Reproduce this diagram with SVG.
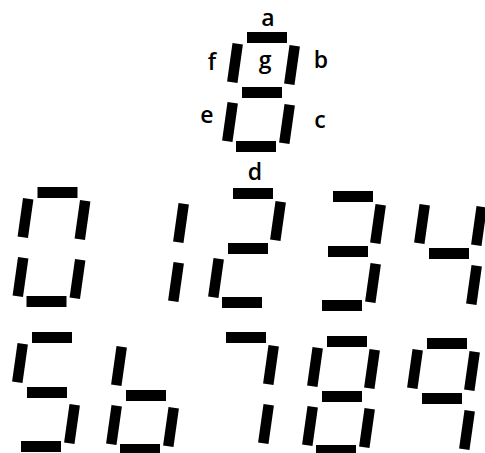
<svg xmlns="http://www.w3.org/2000/svg" xmlns:xlink="http://www.w3.org/1999/xlink" width="485" height="453" viewBox="0 0 485 453">
<style>
.seg{fill:#000}
.lbl{font-family:"Open Sans","Noto Sans",sans-serif;font-weight:600;font-size:23px;fill:#000;text-anchor:middle}
</style>
<defs>
<rect id="h" class="seg" width="40" height="11"/>
<rect id="v" class="seg" x="-5.25" y="-19.5" width="10.5" height="39" transform="rotate(8)"/>
</defs>
<rect width="485" height="453" fill="#fff"/>
<g id="key">
<use href="#h" x="247" y="32"/>
<use href="#v" x="292" y="65"/>
<use href="#v" x="287" y="124"/>
<use href="#h" x="236" y="141"/>
<use href="#v" x="230" y="122"/>
<use href="#v" x="235" y="63"/>
<use href="#h" x="242" y="87"/>
<text class="lbl" x="268" y="26">a</text>
<text class="lbl" x="321" y="68">b</text>
<text class="lbl" x="320" y="128">c</text>
<text class="lbl" x="255" y="180">d</text>
<text class="lbl" x="207" y="123">e</text>
<text class="lbl" x="212" y="70">f</text>
<text class="lbl" x="265" y="68">g</text>
</g>
<g id="digit0" transform="translate(37.5,187)">
<use href="#h"/><use href="#v" x="45" y="33"/><use href="#v" x="40" y="92"/><use href="#h" x="-11" y="109"/><use href="#v" x="-17" y="90"/><use href="#v" x="-12" y="31"/>
</g>
<g id="digit1" transform="translate(136,190)">
<use href="#v" x="45" y="33"/><use href="#v" x="40" y="92"/>
</g>
<g id="digit2" transform="translate(233,188)">
<use href="#h"/><use href="#v" x="45" y="33"/><use href="#h" x="-5" y="55"/><use href="#v" x="-17" y="90"/><use href="#h" x="-11" y="109"/>
</g>
<g id="digit3" transform="translate(333,191)">
<use href="#h"/><use href="#v" x="45" y="33"/><use href="#h" x="-5" y="55"/><use href="#v" x="40" y="92"/><use href="#h" x="-11" y="109"/>
</g>
<g id="digit4" transform="translate(434,193)">
<use href="#v" x="-12" y="31"/><use href="#v" x="45" y="33"/><use href="#h" x="-5" y="55"/><use href="#v" x="40" y="92"/>
</g>
<g id="digit5" transform="translate(32,332)">
<use href="#h"/><use href="#v" x="-12" y="31"/><use href="#h" x="-5" y="55"/><use href="#v" x="40" y="92"/><use href="#h" x="-11" y="109"/>
</g>
<g id="digit6" transform="translate(131,335)">
<use href="#v" x="-12" y="31"/><use href="#h" x="-5" y="55"/><use href="#v" x="-17" y="90"/><use href="#v" x="40" y="92"/><use href="#h" x="-11" y="109"/>
</g>
<g id="digit7" transform="translate(226,332)">
<use href="#h"/><use href="#v" x="45" y="33"/><use href="#v" x="40" y="92"/>
</g>
<g id="digit8" transform="translate(327,336)">
<use href="#h"/><use href="#v" x="45" y="33"/><use href="#v" x="40" y="92"/><use href="#h" x="-11" y="109"/><use href="#v" x="-17" y="90"/><use href="#v" x="-12" y="31"/><use href="#h" x="-5" y="55"/>
</g>
<g id="digit9" transform="translate(427,338)">
<use href="#h"/><use href="#v" x="45" y="33"/><use href="#v" x="40" y="92"/><use href="#v" x="-12" y="31"/><use href="#h" x="-5" y="55"/>
</g>
<g id="connectors"/>
</svg>
